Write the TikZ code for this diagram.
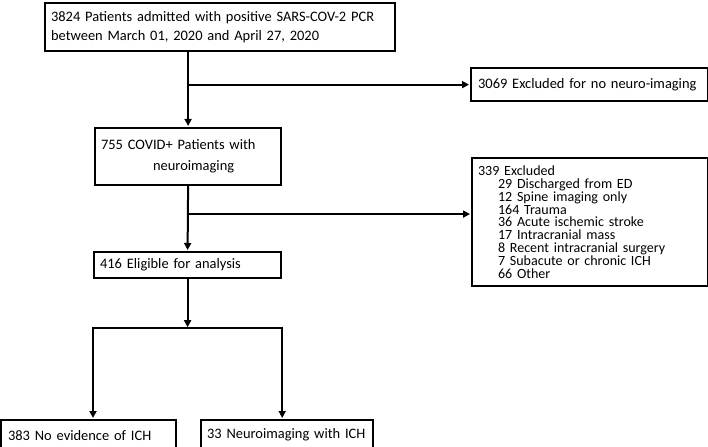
\documentclass[tikz,border=0pt]{standalone}
\usepackage{fontspec}
\setmainfont{Carlito}
\usetikzlibrary{calc,arrows.meta}

\newcommand\recuo{\hspace*{20bp}}

\tikzset{
  caixa/.style={draw, line width=2.2bp, rectangle, anchor=north west, align=left,
    inner xsep=6bp, inner ysep=0pt, font=\fontsize{14.5}{19}\selectfont},
  seta/.style={line width=2bp, -{Triangle[length=7bp,width=7bp]}, shorten >=1bp},
  setadupla/.style={line width=2bp, {Triangle[length=7bp,width=7bp]}-{Triangle[length=7bp,width=7bp]},
    shorten >=1bp, shorten <=1bp}
}

\begin{document}
\begin{tikzpicture}[x=1bp,y=-1bp]
  \useasboundingbox (0,0) rectangle (708,447);
  % caixas do fluxo principal
  \node[caixa, text width=338bp, minimum height=48bp] (admit) at (44,2)
    {3824 Patients admitted with positive SARS-COV-2 PCR\\between March 01, 2020 and April 27, 2020};
  \node[caixa, text width=174bp, minimum height=57bp, font=\fontsize{14.5}{21}\selectfont] (neuro) at (94,127)
    {755 COVID+ Patients with\\\hspace*{52bp}neuroimaging};
  \node[caixa, text width=175bp, minimum height=26bp] (eleg) at (93,251)
    {416 Eligible for analysis};
  % caixas de exclusao
  \node[caixa, text width=223bp, minimum height=33bp, inner xsep=7bp] (exc1) at (470,67)
    {3069 Excluded for no neuro-imaging};
  \node[caixa, text width=224bp, minimum height=128bp, font=\fontsize{14.1}{12.9}\selectfont] (exc2) at (471,157)
    {339 Excluded\\\recuo 29 Discharged from ED\\\recuo 12 Spine imaging only\\\recuo 164 Trauma\\
     \recuo 36 Acute ischemic stroke\\\recuo 17 Intracranial mass\\\recuo 8 Recent intracranial surgery\\
     \recuo 7 Subacute or chronic ICH\\\recuo 66 Other};
  % caixas finais
  \node[caixa, text width=161bp, minimum height=30bp, inner xsep=7bp] (semich) at (0,419)
    {383 No evidence of ICH};
  \node[caixa, text width=160bp, minimum height=30bp] (comich) at (200,419)
    {33 Neuroimaging with ICH};
  % setas do fluxo
  \draw[seta] (admit.south -| neuro.north) -- (neuro.north);
  \draw[seta] (neuro.north |- exc1.west) -- (exc1.west);
  \draw[seta] (neuro.south) -- (eleg.north);
  \coordinate (desvio) at ($(neuro.south)!0.43!(eleg.north)$);
  \draw[seta] (desvio) -- (desvio -| exc2.west);
  % divisao final
  \coordinate (ramo) at ($(eleg.south)+(0,49)$);
  \draw[seta] (eleg.south) -- (ramo);
  \draw[setadupla] (eleg.west |- semich.north) -- (ramo -| eleg.west) -- (ramo -| eleg.east)
    -- (eleg.east |- comich.north);
\end{tikzpicture}
\end{document}
